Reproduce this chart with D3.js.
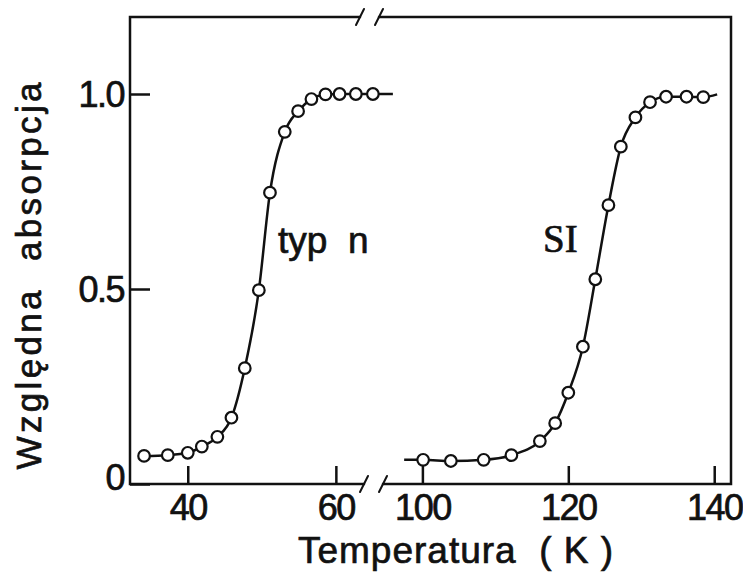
<!DOCTYPE html>
<html>
<head>
<meta charset="utf-8">
<script src="https://cdn.jsdelivr.net/npm/d3@7"></script>
<style>
  body { margin: 0; background: #fff; }
  svg { display: block; }
  text { stroke: #111; stroke-width: 0.7px; }
  .tick text { font-family: "Liberation Sans", Arial, sans-serif; fill: #111; }
</style>
</head>
<body>
<div id="chart"></div>
<script>
// measured values (temperature in K, relative absorption)
const typnT = [34.1, 37.3, 40.0, 41.9, 44.0, 45.9, 47.7, 49.6, 51.1, 53.1, 54.9, 56.7, 58.6, 60.5, 62.7, 65.0];
const typnA = [0.072, 0.074, 0.080, 0.096, 0.121, 0.170, 0.297, 0.497, 0.747, 0.903, 0.956, 0.987, 0.999, 1.0, 1.0, 1.0];
const siT = [100.1, 103.9, 108.4, 112.2, 116.1, 118.2, 120.0, 122.0, 123.7, 125.5, 127.2, 129.2, 131.2, 133.4, 136.2, 138.5];
const siA = [0.062, 0.059, 0.062, 0.074, 0.110, 0.156, 0.234, 0.352, 0.525, 0.715, 0.865, 0.940, 0.979, 0.993, 0.993, 0.992];
// where the drawn curves start / stop beyond the points
const typnLineEnd = [67.7, 1.0];
const siLineStart = [97.5, 0.062];
const siLineEnd = [140.4, 0.999];

const leftTicks = [40, 60];
const rightTicks = [100, 120, 140];
const yTicks = [0, 0.5, 1.0];

const W = 743, H = 579;
const plot = {left: 130, right: 731, top: 17, bottom: 484};
const breakL = 364, breakR = 383;

const svg = d3.select('#chart').append('svg')
    .attr('width', W)
    .attr('height', H);

// scales (broken x axis -> two scales)
const x1 = d3.scaleLinear().domain([32.2, 63.8]).range([plot.left, breakL]);
const x2 = d3.scaleLinear().domain([94.6, 142.3]).range([breakR, plot.right]);
const y = d3.scaleLinear().domain([0, 1]).range([plot.bottom, 94]);

const ink = '#111';

// axes with inward ticks
const gx1 = svg.append('g')
    .attr('transform', `translate(0, ${plot.bottom})`)
    .call(d3.axisBottom(x1).tickValues(leftTicks).tickSize(-18).tickPadding(29).tickFormat(d3.format('d')));
const gx2 = svg.append('g')
    .attr('transform', `translate(0, ${plot.bottom})`)
    .call(d3.axisBottom(x2).tickValues(rightTicks).tickSize(-18).tickPadding(29).tickFormat(d3.format('d')));
const gy = svg.append('g')
    .attr('transform', `translate(${plot.left}, 0)`)
    .call(d3.axisLeft(y).tickValues(yTicks).tickSize(-20).tickPadding(6)
        .tickFormat(d => d === 0 ? '0' : d3.format('.1f')(d)));

[gx1, gx2, gy].forEach(g => {
    g.select('.domain').remove();
    g.selectAll('.tick line').attr('stroke', ink).attr('stroke-width', 2.5);
    g.selectAll('.tick text').attr('font-size', 36).attr('letter-spacing', -1.5);
});
gx1.selectAll('.tick text').attr('dy', '0.2em');
gx2.selectAll('.tick text').attr('dy', '0.2em');
gy.selectAll('.tick text').attr('dy', '0.35em');
gy.selectAll('.tick').filter(d => d === 0).select('text').attr('y', -7);

// frame with axis breaks
const frame = svg.append('g')
    .attr('fill', 'none')
    .attr('stroke', ink)
    .attr('stroke-width', 2.5)
    .attr('stroke-linecap', 'round');
frame.append('path').attr('d', `M${breakL - 4},${plot.top} H${plot.left} V${plot.bottom} H${breakL}`);
frame.append('path').attr('d', `M${breakR - 4},${plot.top} H${plot.right} V${plot.bottom} H${breakR}`);
[[breakL - 4, plot.top], [breakR - 4, plot.top], [breakL, plot.bottom], [breakR, plot.bottom]].forEach(([bx, by]) => {
    frame.append('line')
        .attr('x1', bx - 4).attr('y1', by + 8)
        .attr('x2', bx + 4).attr('y2', by - 8)
        .attr('stroke-width', 2);
});

// curves
const typn = typnT.map((t, i) => ({t, a: typnA[i]}));
const si = siT.map((t, i) => ({t, a: siA[i]}));

const line1 = d3.line().x(d => x1(d.t)).y(d => y(d.a)).curve(d3.curveMonotoneX);
const line2 = d3.line().x(d => x2(d.t)).y(d => y(d.a)).curve(d3.curveMonotoneX);

svg.append('path')
    .datum(typn.concat([{t: typnLineEnd[0], a: typnLineEnd[1]}]))
    .attr('fill', 'none').attr('stroke', ink).attr('stroke-width', 2.5)
    .attr('d', line1);
svg.append('path')
    .datum([{t: siLineStart[0], a: siLineStart[1]}].concat(si, [{t: siLineEnd[0], a: siLineEnd[1]}]))
    .attr('fill', 'none').attr('stroke', ink).attr('stroke-width', 2.5)
    .attr('d', line2);

svg.selectAll('circle.typn')
    .data(typn)
    .enter()
    .append('circle')
    .attr('class', 'typn')
    .attr('cx', d => x1(d.t))
    .attr('cy', d => y(d.a))
    .attr('r', 5.8)
    .attr('fill', '#fff').attr('stroke', ink).attr('stroke-width', 2.2);
svg.selectAll('circle.si')
    .data(si)
    .enter()
    .append('circle')
    .attr('class', 'si')
    .attr('cx', d => x2(d.t))
    .attr('cy', d => y(d.a))
    .attr('r', 5.8)
    .attr('fill', '#fff').attr('stroke', ink).attr('stroke-width', 2.2);

// curve labels
svg.append('text')
    .attr('x', 278).attr('y', 253)
    .attr('font-family', '"Liberation Sans", Arial, sans-serif')
    .attr('font-size', 37)
    .attr('fill', ink)
    .style('white-space', 'pre')
    .text('typ  n');
svg.append('text')
    .attr('x', 543).attr('y', 252)
    .attr('font-family', '"Liberation Serif", serif')
    .attr('font-size', 39)
    .attr('fill', ink)
    .text('SI');

// axis titles
svg.append('text')
    .attr('x', 298).attr('y', 563)
    .attr('font-family', '"Liberation Sans", Arial, sans-serif')
    .attr('font-size', 37)
    .attr('fill', ink)
    .attr('textLength', 315)
    .attr('lengthAdjust', 'spacing')
    .style('white-space', 'pre')
    .text('Temperatura  ( K )');
svg.append('text')
    .attr('transform', 'translate(41, 276) rotate(-90)')
    .attr('text-anchor', 'middle')
    .attr('font-family', '"Liberation Sans", Arial, sans-serif')
    .attr('font-size', 35)
    .attr('fill', ink)
    .attr('textLength', 387)
    .attr('lengthAdjust', 'spacing')
    .style('white-space', 'pre')
    .text('Względna  absorpcja');
</script>
</body>
</html>
